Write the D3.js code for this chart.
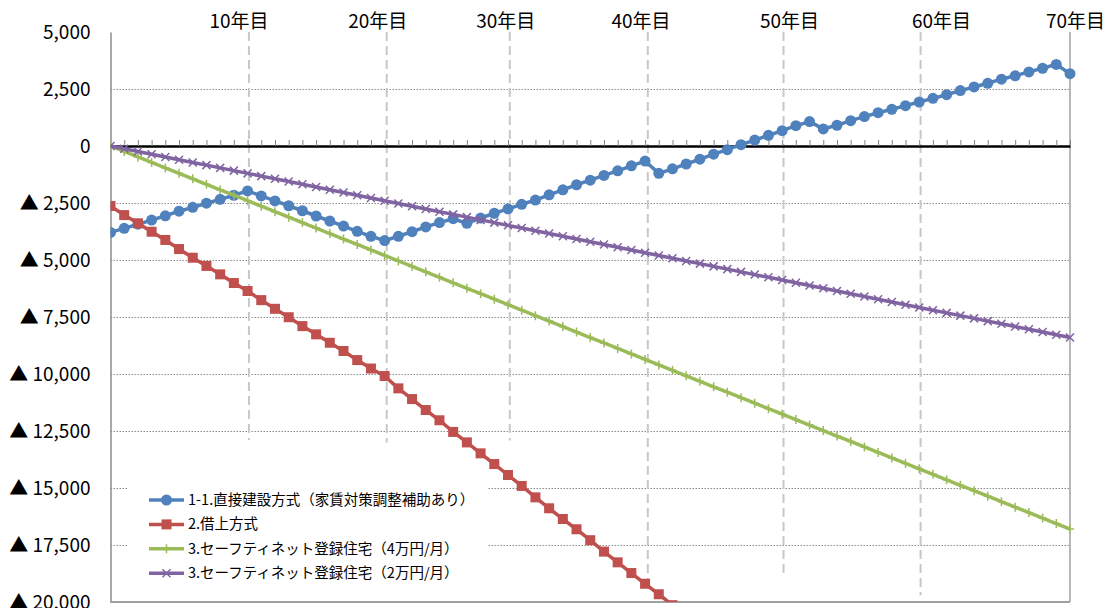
<!DOCTYPE html>
<html>
<head>
<meta charset="utf-8">
<script src="https://cdn.jsdelivr.net/npm/d3@7"></script>
<style>
  body { margin: 0; background: #fff; }
  text { font-family: "Noto Sans CJK JP", "Noto Sans", sans-serif; fill: #000; }
</style>
</head>
<body>
<svg id="chart" width="1116" height="608"></svg>
<script>
// years 0..70
var years = d3.range(0, 71)

var seriesNames = [
  "1-1.直接建設方式（家賃対策調整補助あり）",
  "2.借上方式",
  "3.セーフティネット登録住宅（4万円/月）",
  "3.セーフティネット登録住宅（2万円/月）"
]

var direct = [-3790, -3610, -3430, -3250, -3060, -2860, -2690, -2510, -2340, -2160,
  -1970, -2190, -2410, -2620, -2840, -3070, -3290, -3510, -3740, -3960,
  -4150, -3960, -3760, -3550, -3360, -3190, -3390, -3160, -2950, -2760,
  -2560, -2370, -2140, -1920, -1700, -1500, -1290, -1090, -870, -660,
  -1200, -1000, -790, -580, -360, -160, 60, 260, 470, 670,
  890, 1070, 750, 910, 1110, 1290, 1460, 1610, 1770, 1930,
  2090, 2250, 2430, 2590, 2750, 2930, 3080, 3250, 3410, 3580, 3170]

// goes below the axis minimum after year 40
var lease = [-2630, -3030, -3390, -3760, -4120, -4520, -4900, -5260, -5630, -6010,
  -6360, -6760, -7140, -7510, -7900, -8260, -8630, -8990, -9390, -9760,
  -10090, -10630, -11100, -11580, -12030, -12540, -13000, -13480, -13950, -14430,
  -14910, -15410, -15890, -16360, -16810, -17290, -17790, -18260, -18730, -19200,
  -19660, -20140]

var safety4 = [0, -240, -480, -720, -960, -1200, -1440, -1680, -1920, -2160,
  -2400, -2640, -2880, -3120, -3360, -3600, -3840, -4080, -4320, -4560,
  -4800, -5040, -5280, -5520, -5760, -6000, -6240, -6480, -6720, -6960,
  -7200, -7440, -7680, -7920, -8160, -8400, -8640, -8880, -9120, -9360,
  -9600, -9840, -10080, -10320, -10560, -10800, -11040, -11280, -11520, -11760,
  -12000, -12240, -12480, -12720, -12960, -13200, -13440, -13680, -13920, -14160,
  -14400, -14640, -14880, -15120, -15360, -15600, -15840, -16080, -16320, -16560, -16800]

var safety2 = [0, -120, -240, -360, -480, -600, -720, -840, -960, -1080,
  -1200, -1320, -1440, -1560, -1680, -1800, -1920, -2040, -2160, -2280,
  -2400, -2520, -2640, -2760, -2880, -3000, -3120, -3240, -3360, -3480,
  -3600, -3720, -3840, -3960, -4080, -4200, -4320, -4440, -4560, -4680,
  -4800, -4920, -5040, -5160, -5280, -5400, -5520, -5640, -5760, -5880,
  -6000, -6120, -6240, -6360, -6480, -6600, -6720, -6840, -6960, -7080,
  -7200, -7320, -7440, -7560, -7680, -7800, -7920, -8040, -8160, -8280, -8400]

var yTicks = [5000, 2500, 0, -2500, -5000, -7500, -10000, -12500, -15000, -17500, -20000]

// hand-drawn year markers: label, year of dashed line, year of label centre, lower end of line
var markLabels = ["10年目", "20年目", "30年目", "40年目", "50年目", "60年目", "70年目"]
var markYears = [10.1, 20.15, 29.13, 39.2, 49.1, 59.1, null]
var markLabelYears = [9.37, 19.5, 28.83, 38.7, 49.54, 60.63, 70.4]
var markEnds = [-12900, -13000, -12920, -19200, -18780, -19700, null]

var colors = ["#4F81BD", "#C0504D", "#9BBB59", "#8064A2"]

var svg = d3.select("#chart")
var plotL = 110.5, plotR = 1070, plotT = 32, plotB = 602

var x = d3.scaleLinear().domain([0, 70]).range([plotL, plotR])
var y = d3.scaleLinear().domain([-20000, 5000]).range([plotB, plotT])

// horizontal gridlines
svg.append("g")
    .attr("transform", "translate(" + plotL + ",0)")
    .call(d3.axisLeft(y).tickValues(yTicks.filter(d => d != 0 && d != 5000 && d != -20000))
      .tickSize(-(plotR - plotL)).tickFormat(""))
    .call(g => g.select(".domain").remove())
    .selectAll("line")
      .attr("stroke", "#8c8c8c")
      .attr("stroke-width", 1)
      .attr("stroke-dasharray", "1.5,1.5")

// dashed year markers
markYears.forEach(function(m, i) {
  if (m == null) return
  svg.append("line")
      .attr("x1", x(m)).attr("x2", x(m))
      .attr("y1", plotT).attr("y2", y(markEnds[i]))
      .attr("stroke", "#c8c8c8")
      .attr("stroke-width", 2)
      .attr("stroke-dasharray", "9,5")
})

// y axis labels + left line
svg.append("g")
    .attr("transform", "translate(" + plotL + ",0)")
    .call(d3.axisLeft(y).tickValues(yTicks).tickSize(0).tickPadding(20)
      .tickFormat(d => d < 0 ? "▲ " + d3.format(",")(-d) : d3.format(",")(d)))
    .call(g => g.select(".domain").attr("stroke", "#8c8c8c").attr("stroke-width", 1.5))
    .selectAll("text")
      .style("font-size", "19px")
      .attr("fill", "#000")

// right and bottom border
svg.append("line")
    .attr("x1", plotR).attr("x2", plotR).attr("y1", plotT).attr("y2", plotB)
    .attr("stroke", "#a0a0a0").attr("stroke-width", 1.5)
svg.append("line")
    .attr("x1", plotL).attr("x2", plotR).attr("y1", plotB).attr("y2", plotB)
    .attr("stroke", "#a0a0a0").attr("stroke-width", 2)

// zero axis with year ticks
svg.append("g")
    .attr("transform", "translate(0," + y(0) + ")")
    .call(d3.axisTop(x).tickValues(d3.range(1, 71)).tickSize(6).tickSizeOuter(0).tickFormat(""))
    .call(g => g.selectAll(".tick line").attr("stroke", "#808080"))
    .call(g => g.select(".domain").attr("stroke", "#000").attr("stroke-width", 2.5))

// top labels
svg.selectAll("text.mark")
    .data(markLabels)
    .enter().append("text")
    .attr("class", "mark")
    .attr("x", (d, i) => x(markLabelYears[i]))
    .attr("y", 28)
    .attr("text-anchor", "middle")
    .style("font-size", "19px")
    .text(d => d)

svg.append("clipPath").attr("id", "plotclip")
  .append("rect").attr("x", plotL).attr("y", plotT - 10).attr("width", plotR - plotL + 10).attr("height", plotB - plotT + 10)

var line = d3.line().x((d, i) => x(years[i])).y(d => y(d))
var plot = svg.append("g").attr("clip-path", "url(#plotclip)")

var allSeries = [direct, lease, safety4, safety2]
var markerTypes = ["circle", "square", "plus", "cross"]

function drawMarker(g, type, color) {
  if (type == "circle") {
    g.append("circle").attr("r", 5.5).attr("fill", color)
  } else if (type == "square") {
    g.append("rect").attr("x", -5).attr("y", -5).attr("width", 10).attr("height", 10).attr("fill", color)
  } else if (type == "plus") {
    g.append("path").attr("d", "M0,-4.5V4.5M-4,0H4").attr("stroke", color).attr("stroke-width", 1.5)
  } else {
    g.append("path").attr("d", "M-4,-4L4,4M-4,4L4,-4").attr("stroke", color).attr("stroke-width", 1.5)
  }
}

allSeries.forEach(function(s, k) {
  plot.append("path")
      .datum(s)
      .attr("fill", "none")
      .attr("stroke", colors[k])
      .attr("stroke-width", 3.5)
      .attr("stroke-linejoin", "round")
      .attr("d", line)
  plot.selectAll("g.m" + k)
      .data(s)
      .enter().append("g")
      .attr("class", "m" + k)
      .attr("transform", (d, i) => "translate(" + x(years[i]) + "," + y(d) + ")")
      .each(function() { drawMarker(d3.select(this), markerTypes[k], colors[k]) })
})

// legend (white box over the gridlines, below the red line)
var legend = svg.append("g")
legend.append("rect")
    .attr("x", 128).attr("y", 474).attr("width", 360).attr("height", 124)
    .attr("fill", "#fff")

seriesNames.forEach(function(name, k) {
  var row = legend.append("g").attr("transform", "translate(0," + (500 + k * 24.4) + ")")
  row.append("line")
      .attr("x1", 149).attr("x2", 184)
      .attr("stroke", colors[k]).attr("stroke-width", 3.5)
  var mk = row.append("g").attr("transform", "translate(166.5,0)")
  drawMarker(mk, markerTypes[k], colors[k])
  row.append("text")
      .attr("x", 188).attr("y", 5)
      .style("font-size", "14.5px")
      .text(name)
})
</script>
</body>
</html>
